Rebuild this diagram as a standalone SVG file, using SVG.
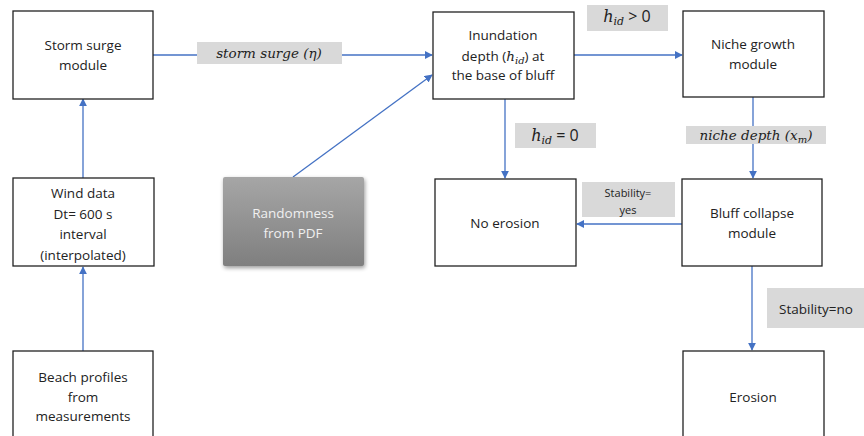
<svg xmlns="http://www.w3.org/2000/svg" width="864" height="436" viewBox="0 0 864 436">
<style>
.box{fill:#fff;stroke:#222;stroke-width:1.3}
.t{font-family:"Open Sans","Liberation Sans",sans-serif;font-size:13.5px;fill:#222;text-anchor:middle}
.m{font-family:"DejaVu Serif","Liberation Serif",serif;font-style:italic;font-size:13.5px;fill:#222;text-anchor:middle}
.lbl{fill:#d9d9d9}
.c{stroke:#4472C4;stroke-width:1.3;fill:none;marker-end:url(#ah)}
</style>
<defs>
<marker id="ah" viewBox="0 0 10 10" refX="9" refY="5" markerWidth="8" markerHeight="8" markerUnits="userSpaceOnUse" orient="auto"><path d="M0,0 L10,5 L0,10 z" fill="#4472C4"/></marker>
<linearGradient id="g" x1="0" y1="0" x2="0" y2="1"><stop offset="0" stop-color="#a6a6a6"/><stop offset="1" stop-color="#7f7f7f"/></linearGradient>
<filter id="sh" x="-10%" y="-10%" width="130%" height="130%"><feGaussianBlur in="SourceAlpha" stdDeviation="2"/><feOffset dx="1" dy="2"/><feComponentTransfer><feFuncA type="linear" slope="0.4"/></feComponentTransfer><feMerge><feMergeNode/><feMergeNode in="SourceGraphic"/></feMerge></filter>
</defs>
<rect width="864" height="436" fill="#fff"/>
<g id="connectors">
<line class="c" x1="153" y1="55" x2="432" y2="55"/>
<path class="c" d="M293,177 L432,75"/>
<line class="c" x1="83" y1="178" x2="83" y2="99"/>
<line class="c" x1="83" y1="351" x2="83" y2="267"/>
<line class="c" x1="574" y1="55" x2="682" y2="55"/>
<line class="c" x1="505" y1="99" x2="505" y2="178"/>
<line class="c" x1="753" y1="97" x2="753" y2="178"/>
<line class="c" x1="682" y1="224" x2="577" y2="224"/>
<line class="c" x1="752" y1="266" x2="752" y2="350"/>
</g>
<g id="labels">
<rect class="lbl" x="197" y="42" width="145" height="22"/>
<text class="m" x="269" y="58">storm surge (η)</text>
<rect class="lbl" x="587" y="5" width="81" height="26"/>
<text class="m" x="627" y="22" style="font-size:16px">h<tspan font-size="11" dy="3">id</tspan><tspan dy="-3" font-style="normal" font-family="Open Sans,sans-serif"> &gt; 0</tspan></text>
<rect class="lbl" x="515" y="123" width="81" height="25"/>
<text class="m" x="555" y="141" style="font-size:16px">h<tspan font-size="11" dy="3">id</tspan><tspan dy="-3" font-style="normal" font-family="Open Sans,sans-serif"> = 0</tspan></text>
<rect class="lbl" x="686" y="126" width="140" height="18"/>
<text class="m" x="756" y="140">niche depth (x<tspan font-size="10" dy="3">m</tspan><tspan dy="-3">)</tspan></text>
<rect class="lbl" x="582" y="182" width="93" height="35"/>
<text class="t" x="628" y="197" style="font-size:11px">Stability=</text>
<text class="t" x="628" y="214" style="font-size:11px">yes</text>
<rect class="lbl" x="767" y="288" width="97" height="40"/>
<text class="t" x="816" y="314">Stability=no</text>
</g>
<g id="storm">
<rect class="box" x="13" y="11" width="140" height="88"/>
<text class="t" x="83" y="50">Storm surge</text>
<text class="t" x="83" y="70">module</text>
</g>
<g id="inundation">
<rect class="box" x="433" y="12" width="141" height="87"/>
<text class="t" x="503" y="40">Inundation</text>
<text class="t" x="503" y="61">depth (<tspan font-family="DejaVu Serif,serif" font-style="italic" font-size="13.5">h<tspan font-size="10" dy="3">id</tspan></tspan><tspan dy="-3">) at</tspan></text>
<text class="t" x="503" y="80">the base of bluff</text>
</g>
<g id="niche">
<rect class="box" x="683" y="11" width="141" height="86"/>
<text class="t" x="753" y="49">Niche growth</text>
<text class="t" x="753" y="69">module</text>
</g>
<g id="wind">
<rect class="box" x="13" y="178" width="141" height="88"/>
<text class="t" x="83" y="198">Wind data</text>
<text class="t" x="83" y="219">Dt= 600 s</text>
<text class="t" x="83" y="239">interval</text>
<text class="t" x="83" y="260">(interpolated)</text>
</g>
<g id="randomness">
<rect x="223" y="177" width="141" height="89" rx="2" fill="url(#g)" filter="url(#sh)"/>
<text class="t" x="293" y="218" style="fill:#f0f0f0">Randomness</text>
<text class="t" x="293" y="238" style="fill:#f0f0f0">from PDF</text>
</g>
<g id="noerosion">
<rect class="box" x="435" y="179" width="141" height="87"/>
<text class="t" x="505" y="228">No erosion</text>
</g>
<g id="bluff">
<rect class="box" x="682" y="179" width="140" height="87"/>
<text class="t" x="752" y="218">Bluff collapse</text>
<text class="t" x="752" y="238">module</text>
</g>
<g id="erosion">
<rect class="box" x="683" y="351" width="141" height="95"/>
<text class="t" x="753" y="402">Erosion</text>
</g>
<g id="beach">
<rect class="box" x="13" y="351" width="140" height="95"/>
<text class="t" x="83" y="382">Beach profiles</text>
<text class="t" x="83" y="402">from</text>
<text class="t" x="83" y="421">measurements</text>
</g>
</svg>
